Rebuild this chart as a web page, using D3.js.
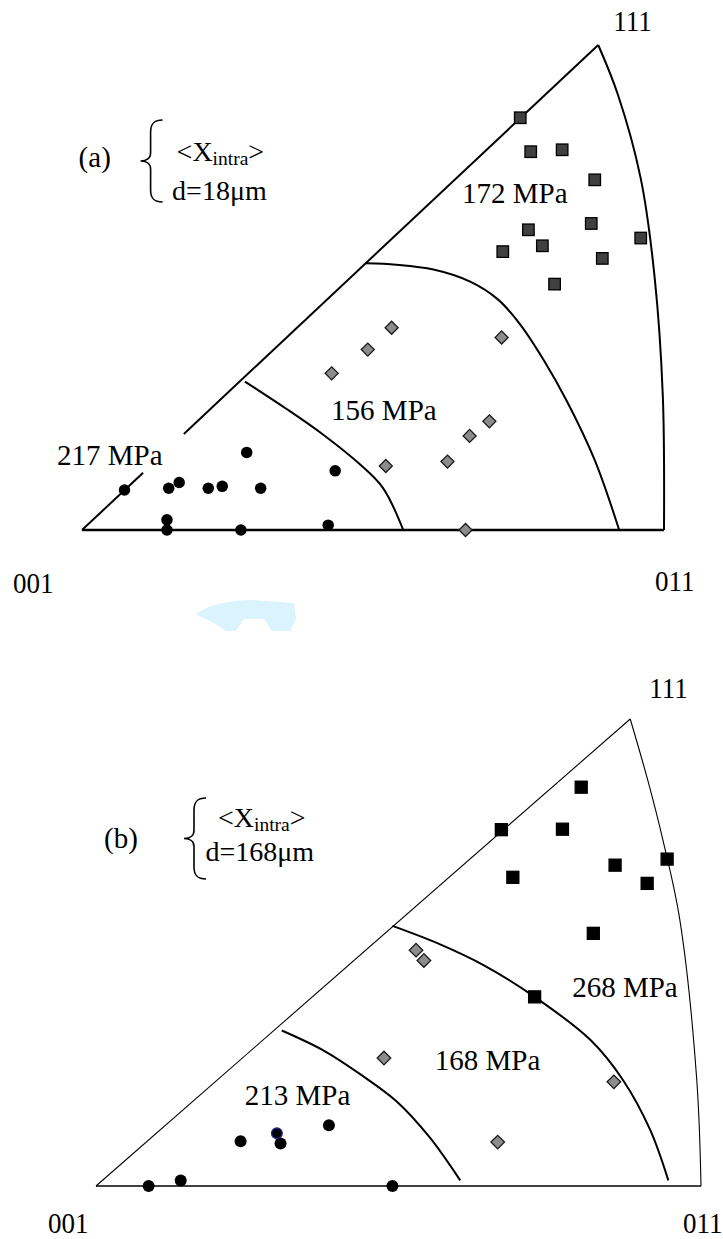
<!DOCTYPE html>
<html>
<head>
<meta charset="utf-8">
<script src="https://cdn.jsdelivr.net/npm/d3@7"></script>
<style>
  html, body { margin: 0; background: #fff; }
  svg { display: block; }
</style>
</head>
<body>
<svg id="chart" width="723" height="1239"></svg>
<script>
// Coordinates are in triangle units: u = 0 at 001, 100 at 011 ; v = 0 on the 001-011 edge, 100 at 111
const cornerLabels = ["001", "011", "111"];
const panelLetters = ["(a)", "(b)"];
const grainSizes = ["d=18μm", "d=168μm"];

// panel (a)
const aLeftEdge = [[[0, 0], [10.5, 11.8]], [[17.5, 19.8], [88.7, 100]]];
const aRightEdge = [[88.7, 100], [92.1, 89.7], [96.0, 72.5], [98.4, 52.0], [99.8, 27.5], [100, 0]];
const aBoundary1 = [[28.0, 30.6], [35.1, 25.0], [41.4, 19.7], [47.7, 13.6], [51.7, 8.7], [55.2, 0]];
const aBoundary2 = [[48.8, 55.0], [54.0, 54.7], [60.4, 53.7], [66.7, 51.2], [71.5, 47.5], [75.4, 42.2],
                    [79.4, 34.9], [83.3, 26.6], [88.1, 14.4], [92.3, 0]];
const aCircles = [[28.3, 16.0], [43.5, 12.2], [7.3, 8.25], [14.9, 8.6], [16.7, 9.8], [21.7, 8.6],
                  [24.1, 9.0], [30.7, 8.6], [14.6, 2.1], [14.6, 0], [27.3, 0], [42.3, 1.0]];
const aDiamonds = [[53.2, 41.7], [49.1, 37.2], [42.9, 32.3], [72.1, 39.7], [70.0, 22.4], [66.6, 19.4],
                   [62.8, 14.1], [52.2, 13.2], [65.9, 0]];
const aSquares = [[75.3, 85.0], [77.1, 78.0], [82.5, 78.4], [88.1, 72.2], [87.5, 63.2], [76.7, 61.9],
                  [96.0, 60.2], [79.1, 58.6], [72.3, 57.4], [89.4, 56.0], [81.2, 50.7]];
const aStress = ["217 MPa", "156 MPa", "172 MPa"];
const aStressAt = [[-4.3, 13.4], [42.8, 22.7], [65.3, 67.4]];

// panel (b)
const bLeftEdge = [[[0, 0], [88.3, 100]]];
const bRightEdge = [[88.3, 100], [91.2, 86.9], [93.7, 74.1], [96.5, 57.0], [99.3, 22.7], [100, 0]];
const bBoundary1 = [[30.7, 33.3], [37.5, 29.1], [43.6, 24.0], [49.7, 18.1], [55.1, 10.5], [60.2, 1.2]];
const bBoundary2 = [[49.0, 55.7], [56.6, 51.9], [64.2, 47.2], [72.5, 40.5], [81.7, 31.3], [87.1, 22.7],
                    [91.6, 12.0], [94.6, 1.2]];
const bCircles = [[38.5, 13.0], [23.9, 9.6], [30.5, 9.1], [8.7, 0], [14.0, 1.2], [49.0, 0]];
const bCirclesBlue = [[29.9, 11.3]];
const bDiamonds = [[52.9, 50.5], [54.2, 48.3], [47.6, 27.4], [85.6, 22.3], [66.4, 9.4]];
const bSquares = [[80.2, 85.4], [67.0, 76.3], [77.1, 76.4], [94.4, 70.0], [85.8, 68.7], [68.9, 66.1],
                  [91.1, 64.8], [82.2, 54.1], [72.5, 40.5]];
const bStress = ["213 MPa", "168 MPa", "268 MPa"];
const bStressAt = [[24.6, 17.3], [56.0, 24.8], [78.7, 40.5]];

const serif = "'Liberation Serif', 'Times New Roman', serif";

const panels = [
  {
    frame: { x0: 82, x1: 664, yBase: 530, yApex: 45 },
    leftEdge: aLeftEdge, rightEdge: aRightEdge, boundaries: [aBoundary1, aBoundary2],
    circles: aCircles, blueCircles: [], diamonds: aDiamonds, squares: aSquares,
    stress: aStress, stressAt: aStressAt,
    edgeWidth: 2, squareFill: "#404040", markSize: 11.5,
    cornerOffsets: [[-69, 63], [-9, 61], [15, -14]],
    legend: { x: 140.6, y: 120, h: 82, letter: [-62, 47], x1: [36, 41], x2: [31.5, 80] },
    letter: panelLetters[0], grain: grainSizes[0]
  },
  {
    frame: { x0: 96, x1: 701, yBase: 1186, yApex: 719 },
    leftEdge: bLeftEdge, rightEdge: bRightEdge, boundaries: [bBoundary1, bBoundary2],
    circles: bCircles, blueCircles: bCirclesBlue, diamonds: bDiamonds, squares: bSquares,
    stress: bStress, stressAt: bStressAt,
    edgeWidth: 1.1, squareFill: "#000", markSize: 12,
    cornerOffsets: [[-48, 47], [-18, 47], [19, -21]],
    legend: { x: 184, y: 798, h: 81, letter: [-80, 50], x1: [34, 29], x2: [21.5, 63] },
    letter: panelLetters[1], grain: grainSizes[1]
  }
];

const svg = d3.select("#chart");

// faint watermark fragment between the two panels
svg.append("path")
  .attr("d", "M196,614 C210,604 232,600 252,600 L294,603 L296,619 L290,631 L272,631 L264,619 L244,619 L236,631 L226,631 C218,624 206,620 196,614 Z")
  .attr("fill", "#dbf3fc");

panels.forEach(p => {
  const f = p.frame;
  const x = d3.scaleLinear().domain([0, 100]).range([f.x0, f.x1]);
  const y = d3.scaleLinear().domain([0, 100]).range([f.yBase, f.yApex]);
  const g = svg.append("g");

  const straight = d3.line().x(d => x(d[0])).y(d => y(d[1]));
  const smooth = d3.line().x(d => x(d[0])).y(d => y(d[1])).curve(d3.curveCatmullRom.alpha(0.5));

  // triangle outline
  g.append("path").attr("d", straight([[0, 0], [100, 0]]))
    .attr("fill", "none").attr("stroke", "#000").attr("stroke-width", p.edgeWidth + 0.4);
  p.leftEdge.forEach(seg => {
    g.append("path").attr("d", straight(seg))
      .attr("fill", "none").attr("stroke", "#000").attr("stroke-width", p.edgeWidth);
  });
  g.append("path").attr("d", smooth(p.rightEdge))
    .attr("fill", "none").attr("stroke", "#000").attr("stroke-width", p.edgeWidth);

  // iso-stress boundaries
  p.boundaries.forEach(b => {
    g.append("path").attr("d", smooth(b))
      .attr("fill", "none").attr("stroke", "#000").attr("stroke-width", 2);
  });

  const s = p.markSize;

  g.selectAll(".sq").data(p.squares).enter().append("rect")
    .attr("class", "sq")
    .attr("x", d => x(d[0]) - s / 2).attr("y", d => y(d[1]) - s / 2)
    .attr("width", s).attr("height", s)
    .attr("fill", p.squareFill).attr("stroke", "#000").attr("stroke-width", 1.3);

  const dm = s * 0.8;
  g.selectAll(".dm").data(p.diamonds).enter().append("rect")
    .attr("class", "dm")
    .attr("x", -dm / 2).attr("y", -dm / 2).attr("width", dm).attr("height", dm)
    .attr("transform", d => `translate(${x(d[0])},${y(d[1])}) rotate(45)`)
    .attr("fill", "#8c8c8c").attr("stroke", "#1a1a1a").attr("stroke-width", 1.3);

  g.selectAll(".ci").data(p.circles).enter().append("circle")
    .attr("class", "ci")
    .attr("cx", d => x(d[0])).attr("cy", d => y(d[1])).attr("r", s / 2)
    .attr("fill", "#000");

  g.selectAll(".cb").data(p.blueCircles).enter().append("circle")
    .attr("class", "cb")
    .attr("cx", d => x(d[0])).attr("cy", d => y(d[1])).attr("r", s / 2 - 0.7)
    .attr("fill", "#000").attr("stroke", "#22228a").attr("stroke-width", 1.4);

  // stress labels
  g.selectAll(".st").data(p.stress).enter().append("text")
    .attr("class", "st")
    .attr("x", (d, i) => x(p.stressAt[i][0])).attr("y", (d, i) => y(p.stressAt[i][1]))
    .attr("font-family", serif).attr("font-size", 29).attr("fill", "#000")
    .text(d => d);

  // corner labels
  const corners = [[0, 0], [100, 0], [p.rightEdge[0][0], 100]];
  g.selectAll(".cl").data(cornerLabels).enter().append("text")
    .attr("class", "cl")
    .attr("transform", (d, i) => {
      const cx = x(corners[i][0]) + p.cornerOffsets[i][0];
      const cy = y(corners[i][1]) + p.cornerOffsets[i][1];
      return `translate(${cx},${cy}) scale(0.9,1)`;
    })
    .attr("font-family", serif).attr("font-size", 30).attr("fill", "#000")
    .text(d => d);

  // legend: letter, brace, <X_intra>, grain size
  const L = p.legend;
  const lg = g.append("g").attr("transform", `translate(${L.x},${L.y})`);
  const h = L.h, m = h / 2;
  lg.append("path")
    .attr("d", `M22,0 C13,0 10,4 10,12 L10,${m - 8} C10,${m - 3} 6,${m} 0,${m} C6,${m} 10,${m + 3} 10,${m + 8} L10,${h - 12} C10,${h - 4} 13,${h} 22,${h}`)
    .attr("fill", "none").attr("stroke", "#000").attr("stroke-width", 1.6);
  lg.append("text").attr("x", L.letter[0]).attr("y", L.letter[1])
    .attr("font-family", serif).attr("font-size", 29).text(p.letter);
  const t1 = lg.append("text").attr("x", L.x1[0]).attr("y", L.x1[1])
    .attr("font-family", serif).attr("font-size", 28);
  t1.append("tspan").text("<X");
  t1.append("tspan").attr("font-size", 19.5).attr("dy", 4).text("intra");
  t1.append("tspan").attr("dy", -4).text(">");
  lg.append("text").attr("x", L.x2[0]).attr("y", L.x2[1])
    .attr("font-family", serif).attr("font-size", 28).text(p.grain);
});
</script>
</body>
</html>
